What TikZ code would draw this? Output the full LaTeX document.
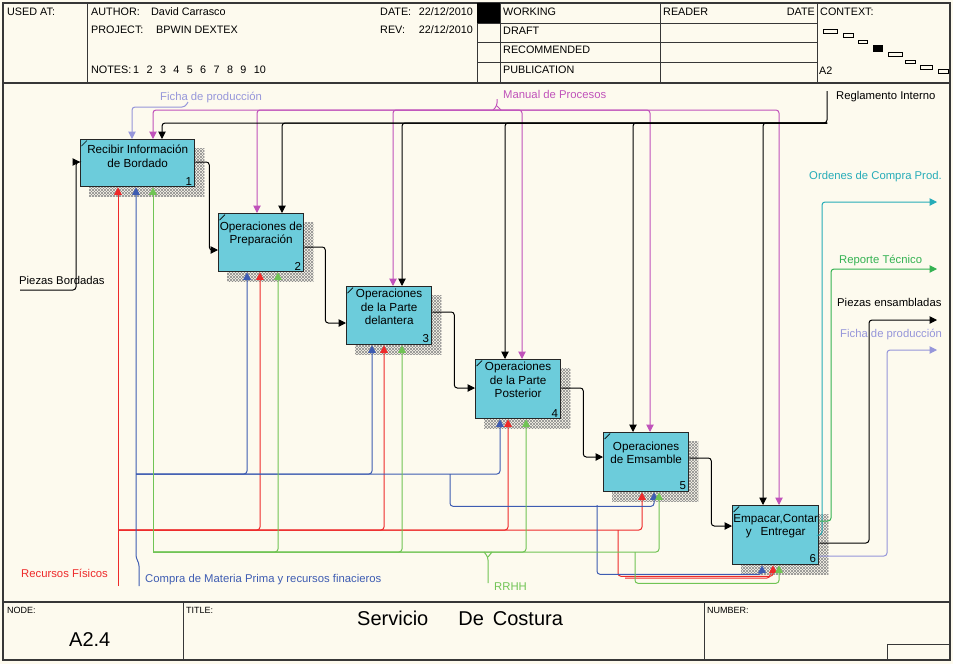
\documentclass[tikz,border=0pt]{standalone}
\usepackage{fontspec}
\setmainfont{Liberation Sans}
\usetikzlibrary{arrows.meta,patterns,calc,backgrounds}

\definecolor{paper}{RGB}{253,250,238}
\definecolor{actfill}{RGB}{108,204,219}
\definecolor{mred}{RGB}{238,42,42}
\definecolor{mblue}{RGB}{62,92,178}
\definecolor{mgreen}{RGB}{112,196,84}
\definecolor{rgreen}{RGB}{52,178,82}
\definecolor{cmag}{RGB}{192,82,186}
\definecolor{lav}{RGB}{150,150,218}
\definecolor{oteal}{RGB}{38,172,184}
\definecolor{framec}{RGB}{55,55,55}

\tikzset{
  frameline/.style={draw=framec, line width=1.3pt},
  cellline/.style={draw=framec, line width=0.9pt},
  hdr/.style={anchor=west, inner sep=0pt, font=\fontsize{10.8}{12}\selectfont, text height=7.5pt, text depth=2pt},
  smallhdr/.style={anchor=west, inner sep=0pt, font=\fontsize{9}{11}\selectfont, text height=6.5pt, text depth=1.5pt},
  bigtxt/.style={anchor=west, inner sep=0pt, font=\fontsize{20}{22}\selectfont, text height=14pt, text depth=3pt},
  lbl/.style={anchor=west, inner sep=0pt, font=\fontsize{11.3}{13}\selectfont, text height=8pt, text depth=2.5pt},
  activity/.style={draw=black!85, line width=1.3pt, fill=actfill, anchor=north west, inner sep=0pt},
  acttext/.style={align=center, inner sep=0pt, font=\fontsize{11.7}{13.5}\selectfont},
  actnum/.style={anchor=south east, inner sep=0pt, font=\fontsize{11.5}{13}\selectfont},
  flow/.style={line width=1pt, rounded corners=3pt},
  arr/.style={flow, -{Triangle[length=7.5pt,width=7.5pt]}},
}

% activity box: name, x, y, width, height, text drop, text, number
\newcommand\actbox[8]{%
  \node[activity, minimum width=#4pt, minimum height=#5pt] (#1) at (#2,#3) {};
  \node[acttext] (#1t) at ($(#1.north)+(0,#6)$) {#7};
  \node[actnum] (#1n) at ($(#1.south east)+(-3,-2)$) {#8};
  \draw[line width=0.7pt] ($(#1.north west)+(1.5,7)$) -- ($(#1.north west)+(7,1.5)$);
  \begin{scope}[on background layer]
    \fill[pattern=north east lines, pattern color=black!45]
      ($(#1.north west)+(9,9)$) rectangle ($(#1.south east)+(9,9)$);
    \fill[pattern=north west lines, pattern color=black!45]
      ($(#1.north west)+(9,9)$) rectangle ($(#1.south east)+(9,9)$);
  \end{scope}
}

\begin{document}
\begin{tikzpicture}[x=1pt,y=-1pt]
\useasboundingbox (0,0) rectangle (953,664);
\begin{scope}[on background layer]
  \fill[paper] (0,0) rectangle (953,664);
\end{scope}

% ---------- frame, header and footer ----------
\draw[frameline] (3,3) rectangle (950,660);
\draw[frameline] (3,83) -- (950,83);
\draw[frameline] (3,602) -- (950,602);
\foreach \xx in {87,477,500,660,817} \draw[cellline] (\xx,3) -- (\xx,83);
\foreach \yy in {23,42,62} \draw[cellline] (477,\yy) -- (817,\yy);
\fill[black] (477,3) rectangle (500,23);
\draw[cellline] (183,602) -- (183,660);
\draw[cellline] (704,602) -- (704,660);
\draw[cellline] (887,644) rectangle (950,660);

% context map
\foreach \a/\b/\c/\d in {823/29/837/33, 843/33/853/37, 858/40/867/43, 888/52/902/56,
                          905/60/915/63, 920/65/932/69, 938/69/948/73}
  \draw[line width=0.7pt] (\a,\b) rectangle (\c,\d);
\fill (873,45) rectangle (883,52);

\node[hdr] (usedat) at (7,13) {USED AT:};
\node[hdr] (author) at (91,13) {AUTHOR:};
\node[hdr] (authorv) at (151,13) {David Carrasco};
\node[hdr] (project) at (91,31) {PROJECT:};
\node[hdr] (projectv) at (156,31) {BPWIN DEXTEX};
\node[hdr] (notes) at (91,71) {NOTES:};
\node[hdr] (notesv) at (133,71) {1\hspace{7.4pt}2\hspace{7.4pt}3\hspace{7.4pt}4\hspace{7.4pt}5\hspace{7.4pt}6\hspace{7.4pt}7\hspace{7.4pt}8\hspace{7.4pt}9\hspace{7.4pt}10};
\node[hdr] (date) at (380,13) {DATE:};
\node[hdr, anchor=east] (datev) at (473,13) {22/12/2010};
\node[hdr] (rev) at (380,31) {REV:};
\node[hdr, anchor=east] (revv) at (473,31) {22/12/2010};
\node[hdr] (working) at (503,13) {WORKING};
\node[hdr] (draft) at (503,32) {DRAFT};
\node[hdr] (recommended) at (503,51) {RECOMMENDED};
\node[hdr] (publication) at (503,71) {PUBLICATION};
\node[hdr] (reader) at (663,13) {READER};
\node[hdr, anchor=east] (rdate) at (815,13) {DATE};
\node[hdr] (context) at (820,13) {CONTEXT:};
\node[hdr] (ctxnode) at (819,72) {A2};

\node[smallhdr] (nodelbl) at (7,611) {NODE:};
\node[bigtxt] (nodenum) at (69,641) {A2.4};
\node[smallhdr] (titlelbl) at (186,611) {TITLE:};
\node[bigtxt] (title) at (357,620) {Servicio\hspace{30pt}De\hspace{9pt}Costura};
\node[smallhdr] (numlbl) at (707,611) {NUMBER:};

% ---------- activities ----------
\actbox{b1}{80}{139}{114}{47}{17}{Recibir Información\\de Bordado}{1}
\actbox{b2}{218}{213}{85}{58}{21}{Operaciones de\\Preparación}{2}
\actbox{b3}{346}{286}{85}{58}{21}{Operaciones\\de la Parte\\delantera}{3}
\actbox{b4}{475}{359}{85}{59}{21}{Operaciones\\de la Parte\\Posterior}{4}
\actbox{b5}{603}{432}{85}{59}{21}{Operaciones\\de Emsamble}{5}
\actbox{b6}{732}{505}{86}{59}{21}{Empacar,Contar\\y\hspace{9pt}Entregar}{6}

% ---------- arrow labels ----------
\node[lbl, text=lav] (fichain) at (160,98) {Ficha de producción};
\node[lbl, text=cmag] (manual) at (503,96) {Manual de Procesos};
\node[lbl] (reglamento) at (836,97) {Reglamento Interno};
\node[lbl, text=oteal] (ordenes) at (809,177) {Ordenes de Compra Prod.};
\node[lbl, text=rgreen] (reporte) at (839,261) {Reporte Técnico};
\node[lbl] (piezasens) at (837,304) {Piezas ensambladas};
\node[lbl, text=lav] (fichaout) at (840,335) {Ficha de producción};
\node[lbl] (piezasbor) at (19,282) {Piezas Bordadas};
\node[lbl, text=mred] (recursos) at (21,575) {Recursos Físicos};
\node[lbl, text=mblue] (compra) at (145,580) {Compra de Materia Prima y recursos finacieros};
\node[lbl, text=mgreen] (rrhh) at (494,588) {RRHH};

% ---------- controls ----------
\draw[arr, lav] (188,102) -- (185,107) -| ($(b1.north west)+(52,0)$);

\coordinate (mtop) at (497,99);
\coordinate (mj) at (497,110);
\draw[flow, cmag] (mtop) -- (497,106) -- (493,110);
\draw[flow, cmag] (497,106) -- (501,110);
\draw[arr, cmag] (mj) -| ($(b1.north west)+(73,0)$);
\draw[arr, cmag] (mj) -| ($(b2.north west)+(39,0)$);
\draw[arr, cmag] (mj) -| ($(b3.north west)+(47,0)$);
\draw[arr, cmag] (mj) -| ($(b4.north west)+(47,0)$);
\draw[arr, cmag] (mj) -| ($(b5.north west)+(47,0)$);
\draw[arr, cmag] (mj) -| ($(b6.north west)+(47,0)$);

\coordinate (rtop) at (827,91);
\coordinate (cj) at (827,123);
\draw[arr] (rtop) |- ($(b1.north west)+(82,-16)$) -- ($(b1.north west)+(82,0)$);
\draw[arr] (cj) -| ($(b2.north west)+(64,0)$);
\draw[arr] (cj) -| ($(b3.north west)+(56,0)$);
\draw[arr] (cj) -| ($(b4.north west)+(30,0)$);
\draw[arr] (cj) -| ($(b5.north west)+(30,0)$);
\draw[arr] (cj) -| ($(b6.north west)+(31,0)$);

% ---------- inputs and chained outputs ----------
\coordinate (pbin) at (20,290);
\draw[arr] (pbin) -| ($(b1.north west)+(-4,23)$) -- ($(b1.north west)+(0,23)$);
\draw[arr] ($(b1.north east)+(0,23)$) -- ++(14,0) |- ($(b2.north west)+(0,37)$);
\draw[arr] ($(b2.north east)+(0,34)$) -- ++(21,0) |- ($(b3.north west)+(0,37)$);
\draw[arr] ($(b3.north east)+(0,26)$) -- ++(22,0) |- ($(b4.north west)+(0,29)$);
\draw[arr] ($(b4.north east)+(0,29)$) -- ++(22,0) |- ($(b5.north west)+(0,25)$);
\draw[arr] ($(b5.north east)+(0,26)$) -- ++(22,0) |- ($(b6.north west)+(0,21)$);

% ---------- outputs of the last activity ----------
\coordinate (oc) at (937,202);
\coordinate (ort) at (937,269);
\coordinate (ope) at (937,320);
\coordinate (ofp) at (937,350);
\draw[arr, oteal] ($(b6.north east)+(0,30)$) -| ($(oc)+(-115,0)$) -- (oc);
\draw[arr, rgreen] ($(b6.north east)+(0,16)$) -| ($(ort)+(-106,0)$) -- (ort);
\draw[arr] ($(b6.north east)+(0,38)$) -| ($(ope)+(-68,0)$) -- (ope);
\draw[arr, lav] ($(b6.north east)+(0,51)$) -| ($(ofp)+(-50,0)$) -- (ofp);

% ---------- mechanisms ----------
% physical resources
\coordinate (rf) at (118,586);
\coordinate (rj) at (118,530);
\draw[arr, mred] (rf) -- ($(b1.south west)+(38,0)$);
\draw[arr, mred] (rj) -| ($(b2.south west)+(42,0)$);
\draw[arr, mred] (rj) -| ($(b3.south west)+(38,0)$);
\draw[arr, mred] (rj) -| ($(b4.south west)+(33,0)$);
\draw[arr, mred] (rj) -| ($(b5.south west)+(39,0)$);
\coordinate (rk) at (618,530);
\draw[arr, mred] (rk) |- ($(b6.south west)+(41,11)$) -- ($(b6.south west)+(41,0)$);
\draw[flow, mred] (625,578) -| ($(b6.south west)+(38,8)$);

% purchasing and finance
\coordinate (mf) at (139,586);
\coordinate (bj) at (136,474);
\draw[arr, mblue] (mf) -- (139,563) -- (136,558) -- ($(b1.south west)+(56,0)$);
\draw[arr, mblue] (bj) -| ($(b2.south west)+(29,0)$);
\draw[arr, mblue] (bj) -| ($(b3.south west)+(26,0)$);
\draw[arr, mblue] (bj) -| ($(b4.south west)+(25,0)$);
\coordinate (bk) at (450,474);
\draw[arr, mblue] (bk) |- ($(b5.south west)+(51,14)$) -- ($(b5.south west)+(51,0)$);
\coordinate (bl) at (597,505);
\draw[arr, mblue] (bl) |- ($(b6.south west)+(30,9)$) -- ($(b6.south west)+(30,0)$);

% human resources
\coordinate (gj) at (153,552);
\coordinate (rh) at (488,583);
\draw[arr, mgreen] (gj) -- ($(b1.south west)+(73,0)$);
\draw[arr, mgreen] (gj) -| ($(b2.south west)+(60,0)$);
\draw[arr, mgreen] (gj) -| ($(b3.south west)+(56,0)$);
\draw[arr, mgreen] (gj) -| ($(b4.south west)+(51,0)$);
\draw[arr, mgreen] (gj) -| ($(b5.south west)+(56,0)$);
\coordinate (gk) at (635,552);
\draw[arr, mgreen] (gk) |- ($(b6.south west)+(47,18)$) -- ($(b6.south west)+(47,0)$);
\draw[flow, mgreen] (rh) -- (488,557) -- (484,552);
\draw[flow, mgreen] (488,557) -- (492,552);
\end{tikzpicture}
\end{document}
